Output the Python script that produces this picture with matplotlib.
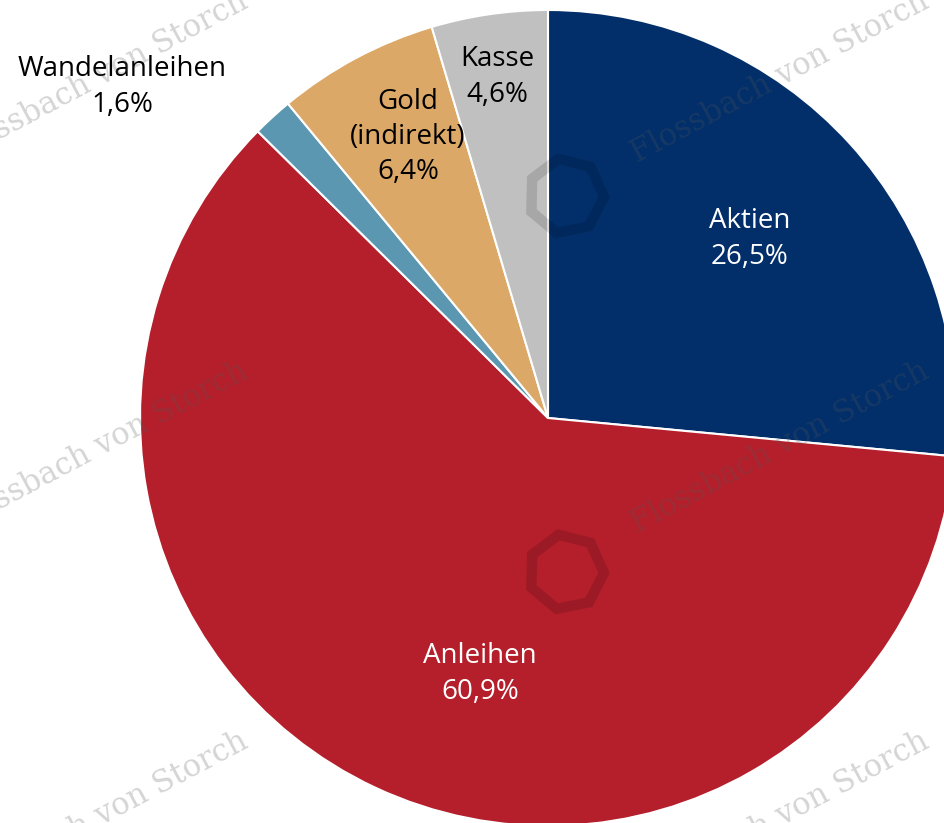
import matplotlib

matplotlib.use("Agg")
import matplotlib.pyplot as plt
from matplotlib.patches import RegularPolygon

# ---- data -------------------------------------------------------------------
categories = ["Aktien", "Anleihen", "Wandelanleihen", "Gold\n(indirekt)", "Kasse"]
shares = [26.5, 60.9, 1.6, 6.4, 4.6]
colors = ["#022f6a", "#b41f2b", "#5b97b0", "#dba867", "#c0c0c0"]
text_colors = ["white", "white", "black", "black", "black"]
# label centres in pixel coords (x, y from top)
label_pos = [(750, 239), (480, 674), (122, 87), (408, 137), (497, 77)]

W, H = 944, 823
CX, CY, R = 548, 418, 408

plt.rcParams["font.family"] = ["Open Sans", "DejaVu Sans"]
fig = plt.figure(figsize=(W / 100, H / 100), dpi=100, facecolor="white")
ax = fig.add_axes([0, 0, 1, 1])

ax.pie(shares, colors=colors, startangle=90, counterclock=False,
       center=(CX, H - CY), radius=R, frame=True,
       wedgeprops=dict(edgecolor="white", linewidth=1.5))
ax.set_xlim(0, W)
ax.set_ylim(0, H)
ax.set_aspect("equal")
ax.axis("off")

for cat, val, tc, (px, py) in zip(categories, shares, text_colors, label_pos):
    txt = f"{cat}\n{val:.1f}%".replace(".", ",")
    ax.text(px, H - py, txt, ha="center", va="center", color=tc,
            fontsize=20, linespacing=1.35)

# ---- watermark ----------------------------------------------------------------
# tiled "Flossbach von Storch" stamp, start points of each baseline
for sx in (-44, 637):
    for sy in (163, 533, 903):
        ax.text(sx, H - sy, "Flossbach von Storch", rotation=28,
                rotation_mode="anchor", ha="left", va="baseline",
                family="DejaVu Serif", fontsize=22, color="#555555",
                alpha=0.25, zorder=5, clip_on=False)

for lx, ly in [(566, 196), (566, 572)]:
    ax.add_patch(RegularPolygon((lx, H - ly), numVertices=7, radius=38,
                                orientation=0.2, fill=False,
                                edgecolor="black", linewidth=7.5, alpha=0.13,
                                zorder=5))

fig.savefig("out.png", dpi=100, facecolor="white")
